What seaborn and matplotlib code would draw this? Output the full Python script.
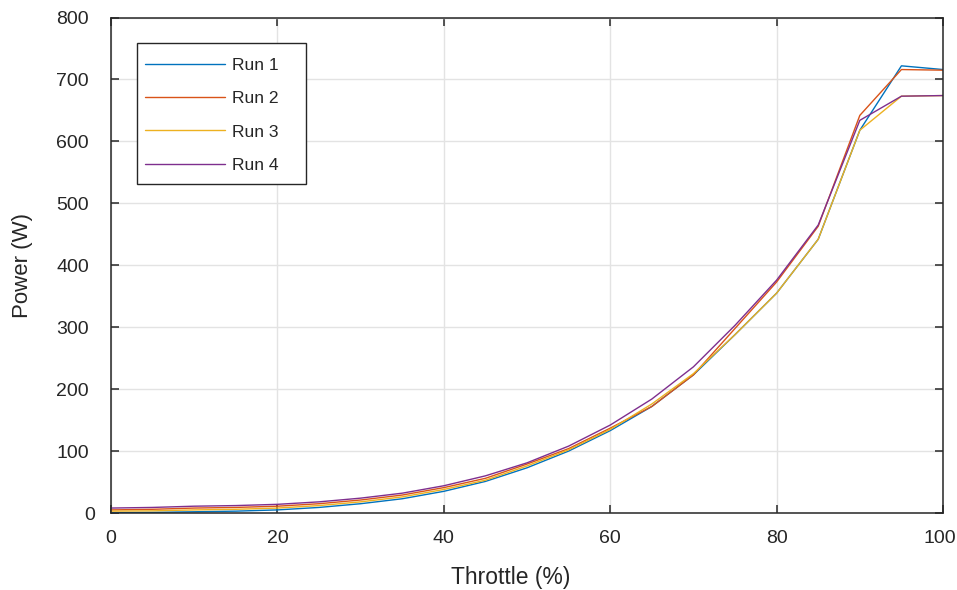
import matplotlib
matplotlib.use("Agg")
import matplotlib.pyplot as plt
import matplotlib.transforms as mtransforms
from matplotlib.patches import Rectangle
import seaborn as sns
import pandas as pd

# Throttle sweep (%) and measured electrical power (W) for four runs
throttle = [0, 5, 10, 15, 20, 25, 30, 35, 40, 45, 50, 55, 60, 65, 70, 75, 80, 85, 90, 95, 100]
run1 = [0.5, 1, 2, 3, 5, 9, 15, 23, 35, 51, 73, 100, 133, 172, 223, 288, 355, 442, 618, 722, 716]
run2 = [5, 6, 8, 9, 11, 15, 21, 29, 41, 56, 79, 104, 137, 172, 223, 298, 373, 463, 642, 716, 715]
run3 = [3, 3.5, 5, 6, 8, 12, 18, 26, 38, 53, 76, 102, 135, 176, 225, 288, 355, 442, 618, 673, 674]
run4 = [8, 9, 11, 12, 14, 18, 24, 32, 44, 60, 81, 108, 142, 184, 236, 303, 376, 465, 634, 673, 674]

run_names = ["Run 1", "Run 2", "Run 3", "Run 4"]
run_colors = ["#0072BD", "#D95319", "#EDB120", "#7E2F8E"]
x_ticks = [0, 20, 40, 60, 80, 100]
y_ticks = [0, 100, 200, 300, 400, 500, 600, 700, 800]

frames = []
for name, values in zip(run_names, [run1, run2, run3, run4]):
    frames.append(pd.DataFrame({"Throttle": throttle, "Power": values, "Run": name}))
df = pd.concat(frames, ignore_index=True)

sns.set_style("white")
plt.rcParams["font.family"] = ["Liberation Sans", "DejaVu Sans"]

fig = plt.figure(figsize=(9.57, 5.90), dpi=100)
ax = fig.add_axes([0.116, 0.1305, 0.8694, 0.8398])

sns.lineplot(data=df, x="Throttle", y="Power", hue="Run",
             palette=dict(zip(run_names, run_colors)),
             linewidth=1.0, ax=ax, legend=True)

ax.set_xlim(0, 100)
ax.set_ylim(0, 800)
ax.set_xticks(x_ticks)
ax.set_yticks(y_ticks)
ax.set_xticklabels([str(v) for v in x_ticks])
ax.set_yticklabels([str(v) for v in y_ticks])

ax.grid(True, color="#E3E3E3", linewidth=1.0, zorder=0)
ax.set_axisbelow(True)

for side in ["left", "right", "top", "bottom"]:
    ax.spines[side].set_visible(True)
    ax.spines[side].set_color("#262626")
    ax.spines[side].set_linewidth(1.1)

ax.tick_params(axis="both", which="both", direction="in", length=6,
               width=1.1, color="#262626", labelcolor="#262626",
               labelsize=14, top=True, right=True, bottom=True, left=True)
ax.tick_params(axis="x", pad=12)
ax.tick_params(axis="y", pad=16)

# keep the corner labels clear of the origin and the figure edge
xlabels = ax.get_xticklabels()
xlabels[-1].set_horizontalalignment("right")
xlabels[-1].set_transform(xlabels[-1].get_transform() +
                          mtransforms.ScaledTranslation(13 / 100, 0, fig.dpi_scale_trans))
ylabels = ax.get_yticklabels()
ylabels[0].set_transform(ylabels[0].get_transform() +
                         mtransforms.ScaledTranslation(6 / 100, 0, fig.dpi_scale_trans))

ax.set_xlabel("Throttle (%)", fontsize=16.5, color="#262626")
ax.set_ylabel("Power (W)", fontsize=16, color="#262626")
ax.xaxis.set_label_coords(0.48, -0.106)
ax.yaxis.set_label_coords(-0.094, 0.5)

# legend frame drawn as a plain box, entries placed inside it
box_x, box_y = 26 / 832, (513 - 184) / 495.5
box_w, box_h = 169 / 832, 141 / 495.5
ax.add_patch(Rectangle((box_x, box_y), box_w, box_h, transform=ax.transAxes,
                       facecolor="white", edgecolor="#262626", linewidth=1.0,
                       zorder=4.9, clip_on=False))
leg = ax.legend(loc="upper left", bbox_to_anchor=(box_x, 0.934),
                fontsize=12.6, frameon=False,
                handlelength=4.6, handletextpad=0.35, borderpad=0.45,
                labelspacing=1.02, borderaxespad=0)
leg.set_zorder(5)
for line in leg.get_lines():
    line.set_linewidth(1.0)
for text in leg.get_texts():
    text.set_color("#262626")

fig.savefig("out.png", dpi=100)
